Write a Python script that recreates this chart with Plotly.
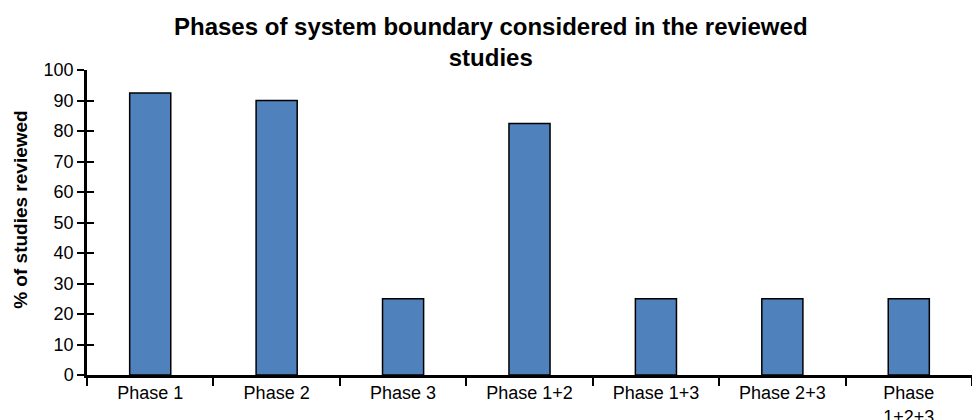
import plotly.graph_objects as go

categories = ["Phase 1", "Phase 2", "Phase 3", "Phase 1+2", "Phase 1+3", "Phase 2+3", "Phase<br>1+2+3"]
values = [92.5, 90, 25, 82.5, 25, 25, 25]
y_ticks = list(range(0, 101, 10))
title_text = "<b>Phases of system boundary considered in the reviewed<br>studies</b>"
y_title = "<b>% of studies reviewed</b>"

FONT = "Liberation Sans, Arial, sans-serif"

fig = go.Figure()
fig.add_trace(go.Bar(
    x=categories, y=values,
    marker=dict(color="#4F81BD", line=dict(color="black", width=1.5)),
    hoverinfo="skip",
))
fig.add_trace(go.Scatter(x=categories, y=values, yaxis="y2", mode="markers",
                         marker=dict(opacity=0), hoverinfo="skip", showlegend=False))

fig.update_layout(
    width=980, height=420,
    margin=dict(l=79, r=16, t=62, b=53),
    paper_bgcolor="white", plot_bgcolor="white",
    showlegend=False,
    bargap=0.675,
    font=dict(family=FONT, color="black", size=18),
    annotations=[
        dict(text=title_text, xref="paper", yref="paper", x=0.457, y=1.192,
             xanchor="center", yanchor="top", showarrow=False,
             font=dict(size=24, family=FONT, color="black")),
        dict(text=y_title, xref="paper", yref="paper", x=-0.076, y=0.544,
             xanchor="center", yanchor="middle", textangle=-90, showarrow=False,
             font=dict(size=19, family=FONT, color="black")),
    ],
    xaxis=dict(
        showline=True, linecolor="black", linewidth=2.5,
        ticks="outside", ticklen=8, tickwidth=2, tickcolor="black",
        tickson="boundaries", showgrid=False, zeroline=False,
        tickfont=dict(size=18), automargin=False,
    ),
    yaxis=dict(
        range=[0, 100], tickvals=y_ticks,
        showline=True, linecolor="black", linewidth=2.5,
        ticks="outside", ticklen=7, tickwidth=2, tickcolor="black",
        showgrid=False, zeroline=False,
        tickfont=dict(size=18), automargin=False,
    ),
    yaxis2=dict(
        overlaying="y", matches="y", side="left",
        range=[0, 100], tickvals=y_ticks,
        ticks="inside", ticklen=7, tickwidth=2, tickcolor="black",
        showticklabels=False, showgrid=False, zeroline=False, showline=False,
    ),
)

fig.write_html("out.html")
